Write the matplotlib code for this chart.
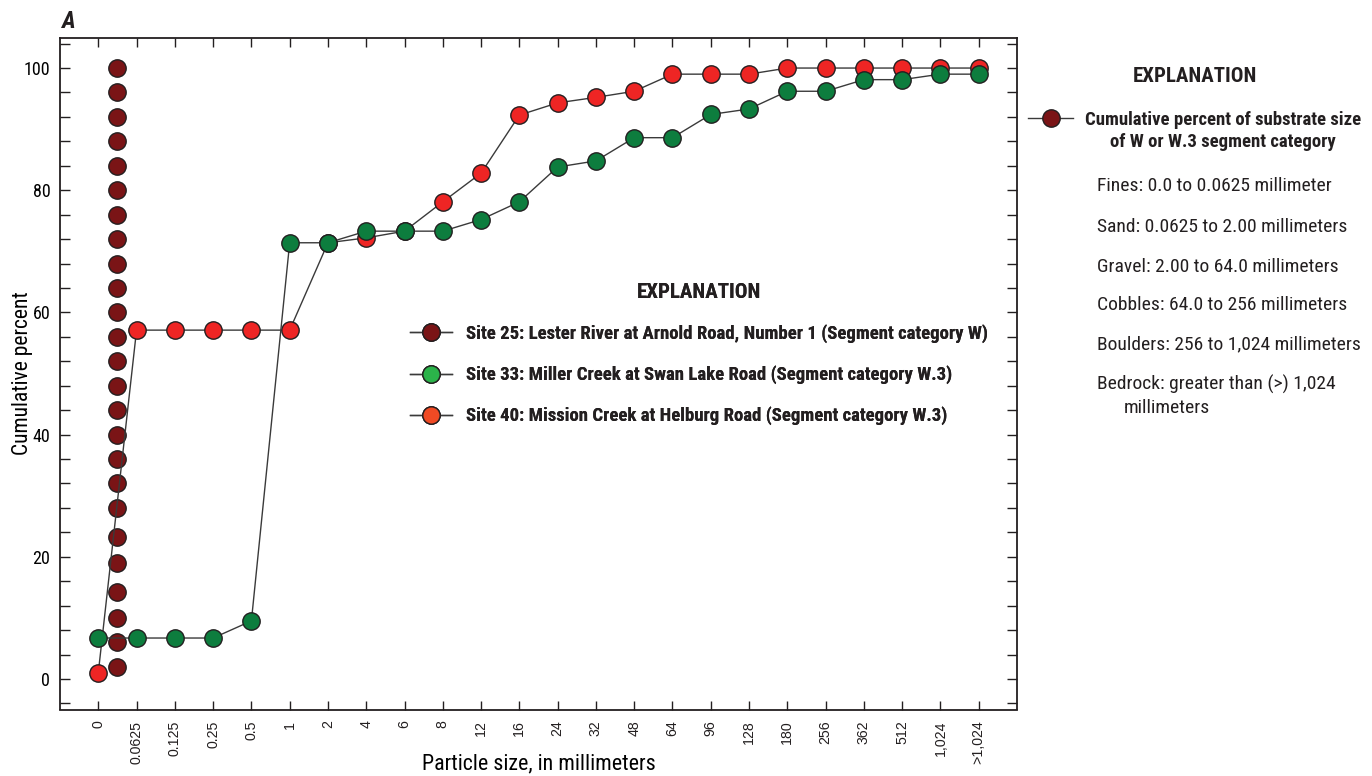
import matplotlib
matplotlib.use("Agg")
import matplotlib.pyplot as plt
from matplotlib.lines import Line2D
from matplotlib.ticker import MultipleLocator

# ---------------------------------------------------------------- data
size_classes = ["0", "0.0625", "0.125", "0.25", "0.5", "1", "2", "4", "6", "8",
                "12", "16", "24", "32", "48", "64", "96", "128", "180", "256",
                "362", "512", "1,024", ">1,024"]

# Site 25 values sit between the first two size classes
site25_position = 0.5
site25_percent = [2, 6, 10, 14.2, 19, 23.3, 28, 32, 36, 40, 44, 48, 52, 56,
                  60, 64, 68, 72, 76, 80, 84, 88, 92, 96, 100]

site40_percent = [1, 57.1, 57.1, 57.1, 57.1, 57.1, 71.4, 72.2, 73.3, 78.1,
                  82.8, 92.3, 94.3, 95.2, 96.2, 99.0, 99.0, 99.0, 100, 100,
                  100, 100, 100, 100]

site33_percent = [6.7, 6.7, 6.7, 6.7, 9.5, 71.4, 71.4, 73.3, 73.3, 73.3,
                  75.2, 78.1, 83.8, 84.8, 88.6, 88.6, 92.4, 93.3, 96.2, 96.2,
                  98.1, 98.1, 99.0, 99.0]

site_labels = [
    "Site 25: Lester River at Arnold Road, Number 1 (Segment category W)",
    "Site 33: Miller Creek at Swan Lake Road (Segment category W.3)",
    "Site 40: Mission Creek at Helburg Road (Segment category W.3)",
]

class_lines = [
    "Fines: 0.0 to 0.0625 millimeter",
    "Sand: 0.0625 to 2.00 millimeters",
    "Gravel: 2.00 to 64.0 millimeters",
    "Cobbles: 64.0 to 256 millimeters",
    "Boulders: 256 to 1,024 millimeters",
    "Bedrock: greater than (>) 1,024",
    "millimeters",
]

# ---------------------------------------------------------------- style
NARROW = ["Roboto Condensed", "DejaVu Sans"]
REGULAR = ["Liberation Sans", "DejaVu Sans"]
INK = "#231f20"
LINE = "#3a3a3a"
DARK_RED = "#7a1416"
RED = "#ee2524"
GREEN = "#0d7d3e"
KEY_GREEN = "#2bb34a"
KEY_RED = "#f04a24"

plt.rcParams["font.family"] = NARROW
plt.rcParams["text.color"] = INK

W, H = 1372, 776
fig = plt.figure(figsize=(W / 100, H / 100), dpi=100)
ax = fig.add_axes([60 / W, 1 - 709.5 / H, (1017 - 60) / W, (709.5 - 37.5) / H])

marker_kw = dict(marker="o", markersize=12.5, markeredgecolor=INK,
                 markeredgewidth=1.0)
x = list(range(len(size_classes)))

ax.plot([site25_position] * len(site25_percent), site25_percent,
        linestyle="none", markerfacecolor=DARK_RED, zorder=3, **marker_kw)
ax.plot(x, site40_percent, color=LINE, linewidth=1.0,
        markerfacecolor=RED, zorder=4, **marker_kw)
ax.plot(x, site33_percent, color=LINE, linewidth=1.0,
        markerfacecolor=GREEN, zorder=5, **marker_kw)

ax.set_xlim(-1, len(size_classes))
ax.set_ylim(-5, 105)

for side in ax.spines.values():
    side.set_linewidth(1.3)
    side.set_color(INK)

ax.set_xticks(x)
ax.set_xticklabels(size_classes, rotation=90, fontsize=10.2,
                   family=REGULAR, color=INK)
ax.tick_params(axis="x", direction="in", top=True, length=6.5, width=1.0,
               color=INK, pad=8)

ax.set_yticks(range(0, 101, 20))
ax.yaxis.set_minor_locator(MultipleLocator(4))
ax.tick_params(axis="y", which="both", direction="in", right=True,
               length=7, width=1.0, color=INK, pad=7, labelsize=13)

ax.set_xlabel("Particle size, in millimeters", fontsize=15.8)
ax.xaxis.set_label_coords(0.5, -0.066)
ax.set_ylabel("Cumulative percent", fontsize=15.5)
ax.yaxis.set_label_coords(-0.028, 0.5)

fig.text(61 / W, 1 - 28.3 / H, "A", fontsize=17, fontweight="bold",
         fontstyle="italic", va="baseline")

# ---------------------------------------------------------------- keys
line_kw = dict(color=LINE, linewidth=1.0, marker="o", markersize=12.5,
               markeredgecolor=INK, markeredgewidth=1.0)
site_handles = [Line2D([], [], markerfacecolor=DARK_RED, **line_kw),
                Line2D([], [], markerfacecolor=KEY_GREEN, **line_kw),
                Line2D([], [], markerfacecolor=KEY_RED, **line_kw)]

site_key = ax.legend(site_handles, site_labels, title="EXPLANATION",
                     loc="upper left",
                     bbox_to_anchor=(410 / W, 1 - 283 / H),
                     bbox_transform=fig.transFigure, frameon=False,
                     borderpad=0, borderaxespad=0, numpoints=1,
                     handlelength=2.24, handletextpad=0.75,
                     labelspacing=1.19,
                     prop=dict(family=NARROW, weight="bold", size=13.5),
                     title_fontproperties=dict(family=NARROW, weight="bold",
                                               size=15))
ax.add_artist(site_key)

class_handle = Line2D([], [], markerfacecolor=DARK_RED, **line_kw)
class_key = fig.legend([class_handle],
                       ["Cumulative percent of substrate size"],
                       title="EXPLANATION", loc="upper left",
                       bbox_to_anchor=(1028 / W, 1 - 67 / H),
                       frameon=False, borderpad=0, borderaxespad=0,
                       numpoints=1, handlelength=2.4, handletextpad=0.64,
                       labelspacing=1.31,
                       prop=dict(family=NARROW, weight="bold", size=13.5),
                       title_fontproperties=dict(family=NARROW,
                                                 weight="bold", size=15))

fig.canvas.draw()
first_line = class_key.get_texts()[0].get_window_extent()
center_x = (first_line.x0 + first_line.x1) / 2 / W
fig.text(center_x, 1 - 147 / H, "of W or W.3 segment category",
         ha="center", va="baseline", fontsize=13.5, fontweight="bold")

class_baselines = [190.7, 231.7, 271.7, 309.5, 349.5, 390, 413.3]
class_indents = [1097, 1097, 1097, 1097, 1097, 1097, 1124]
for text, base, left in zip(class_lines, class_baselines, class_indents):
    fig.text(left / W, 1 - base / H, text, fontsize=14, va="baseline")

fig.savefig("out.png", dpi=100)
